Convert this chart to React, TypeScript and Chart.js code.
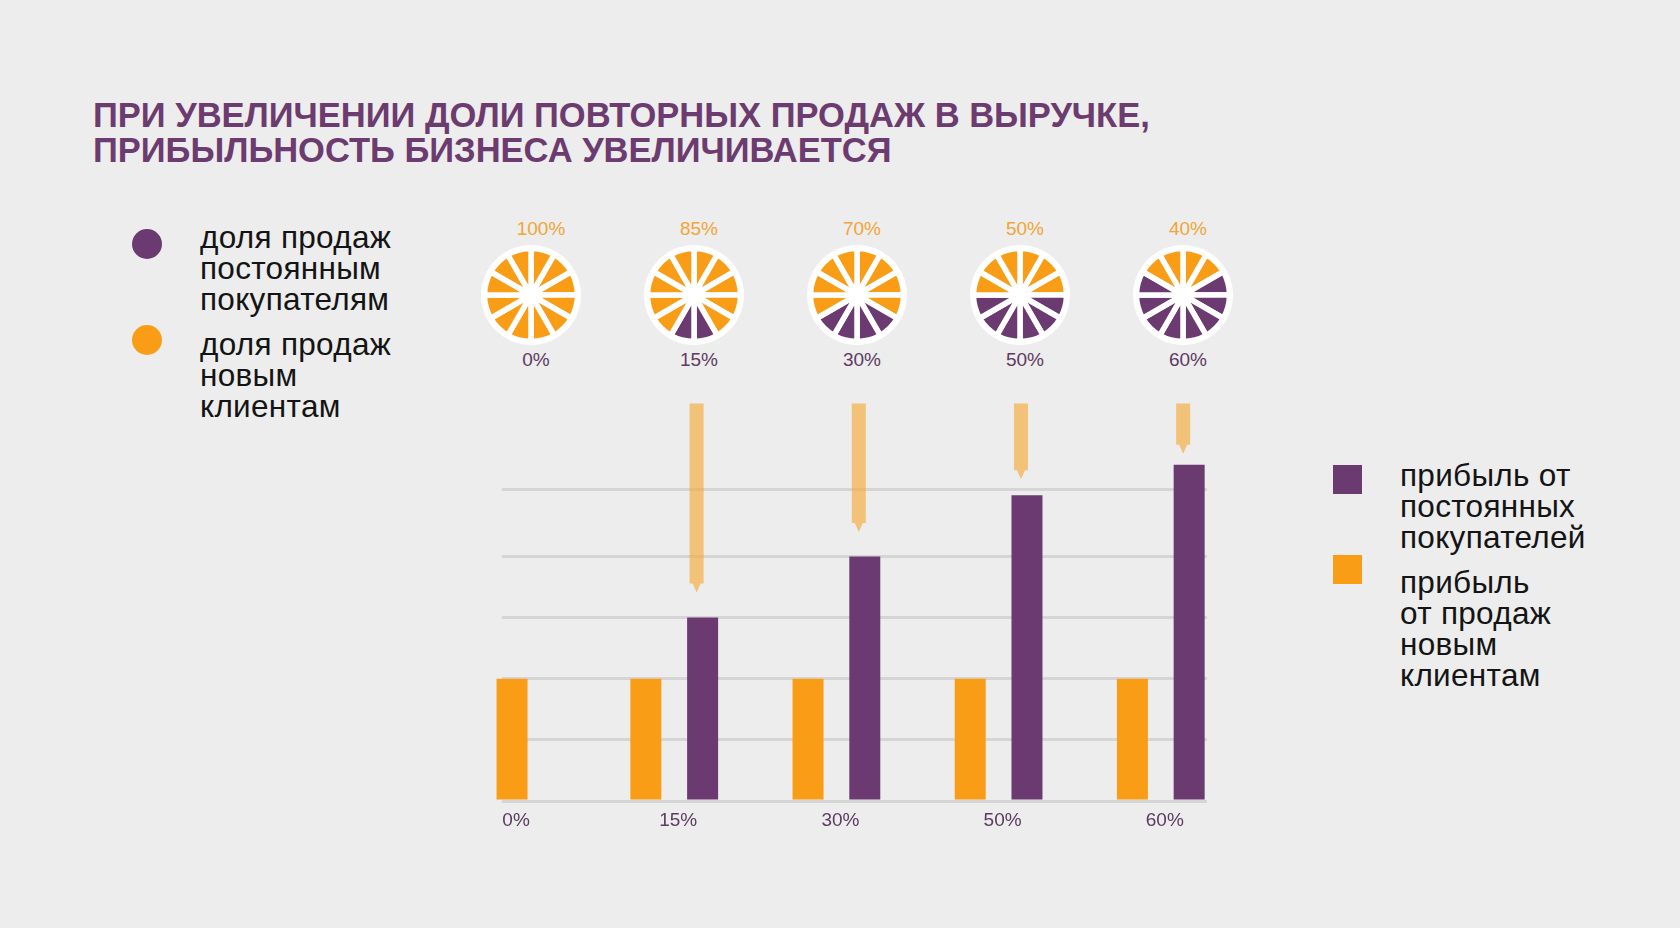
import React, { useEffect, useRef } from 'react';
import { Chart, registerables } from 'chart.js';

Chart.register(...registerables);

// ---------- data ----------
const categories = ['0%', '15%', '30%', '50%', '60%'];
const newClientProfit = [2, 2, 2, 2, 2];
const repeatProfit: (number | null)[] = [null, 3, 4, 5, 5.5];
const arrowTop: (number | null)[] = [null, 6.5, 6.5, 6.5, 6.5];
const arrowTip: (number | null)[] = [null, 3.41, 4.4, 5.26, 5.68];
const gridValues = [0, 1, 2, 3, 4, 5.1];

const newShareLabels = ['100%', '85%', '70%', '50%', '40%'];
const repeatShareLabels = ['0%', '15%', '30%', '50%', '60%'];
const repeatWedges = [0, 2, 4, 6, 8];
const wedgeUnits = [1, 1, 1, 1, 1, 1, 1, 1, 1, 1, 1, 1];

const titleLines = [
  'ПРИ УВЕЛИЧЕНИИ ДОЛИ ПОВТОРНЫХ ПРОДАЖ В ВЫРУЧКЕ,',
  'ПРИБЫЛЬНОСТЬ БИЗНЕСА УВЕЛИЧИВАЕТСЯ',
];
const leftLegendRepeat = ['доля продаж', 'постоянным', 'покупателям'];
const leftLegendNew = ['доля продаж', 'новым', 'клиентам'];
const rightLegendRepeat = ['прибыль от', 'постоянных', 'покупателей'];
const rightLegendNew = ['прибыль', 'от продаж', 'новым', 'клиентам'];

// ---------- styles ----------
const BG = '#ecedec';
const PURPLE = '#6a3a70';
const ORANGE = '#f99d16';
const ARROW = 'rgba(248,165,45,0.6)';
const GRID = '#d4d5d4';
const TITLE = '#6c3b70';
const LABEL_PURPLE = '#5e3a63';
const LABEL_ORANGE = '#f2a53a';
const FONT = "'Liberation Sans', Arial, sans-serif";
const ARROW_SHIFT = -6;

const pieCentersX = [531, 694, 857, 1020, 1183];
const pieCenterY = 295;

const arrowPlugin = {
  id: 'arrowShapes',
  afterDatasetsDraw(chart: any) {
    const meta = chart.getDatasetMeta(2);
    const ctx = chart.ctx;
    ctx.save();
    ctx.fillStyle = ARROW;
    meta.data.forEach((el: any, i: number) => {
      if (arrowTip[i] == null) return;
      const props = el.getProps(['x', 'y', 'base', 'width'], true);
      const x = props.x + ARROW_SHIFT;
      const width = props.width;
      const top = Math.min(props.y, props.base);
      const tip = Math.max(props.y, props.base);
      const head = 9;
      const hw = 4;
      ctx.beginPath();
      ctx.moveTo(x - width / 2, top);
      ctx.lineTo(x + width / 2, top);
      ctx.lineTo(x + width / 2, tip - head);
      ctx.lineTo(x + hw, tip - head);
      ctx.lineTo(x, tip);
      ctx.lineTo(x - hw, tip - head);
      ctx.lineTo(x - width / 2, tip - head);
      ctx.closePath();
      ctx.fill();
    });
    ctx.restore();
  },
};

function BarChart() {
  const ref = useRef<HTMLCanvasElement>(null);
  useEffect(() => {
    const common = {
      categoryPercentage: 0.7,
      skipNull: true,
      clip: false,
    };
    const chart = new Chart(ref.current!, {
      type: 'bar',
      data: {
        datasets: [
          {
            ...common,
            label: 'new',
            stack: 'o',
            data: categories.map((_, i) => ({ x: i, y: newClientProfit[i] })),
            backgroundColor: ORANGE,
            barPercentage: 0.546,
            maxBarThickness: 31,
          },
          {
            ...common,
            label: 'repeat',
            stack: 'p',
            data: categories.map((_, i) => ({ x: i, y: repeatProfit[i] })),
            backgroundColor: PURPLE,
            barPercentage: 0.546,
            maxBarThickness: 31,
          },
          {
            ...common,
            label: 'arrow',
            stack: 'p',
            data: categories.map((_, i) => ({
              x: i,
              y: arrowTip[i] == null ? null : [arrowTip[i], arrowTop[i]],
            })),
            backgroundColor: 'rgba(0,0,0,0)',
            barPercentage: 0.25,
            maxBarThickness: 14,
          },
        ] as any,
      },
      options: {
        animation: false,
        responsive: false,
        events: [],
        layout: { padding: { left: 22, right: 33, top: 23.5, bottom: 20.2 } },
        plugins: { legend: { display: false }, tooltip: { enabled: false } },
        scales: {
          x: {
            type: 'linear',
            offset: false,
            min: -0.062,
            max: 4.285,
            grid: { display: false, drawTicks: false, offset: false },
            border: { display: false },
            afterBuildTicks: (s: any) => {
              s.ticks = categories.map((_, i) => ({ value: i }));
            },
            ticks: {
              callback: (v: any) => categories[v] ?? '',
              color: LABEL_PURPLE,
              font: { family: FONT, size: 19 },
              padding: 8,
              labelOffset: 4,
              maxRotation: 0,
              autoSkip: false,
            },
          },
          y: {
            min: 0,
            max: 6.5,
            stacked: false,
            afterBuildTicks: (s: any) => {
              s.ticks = gridValues.map((v) => ({ value: v }));
            },
            ticks: { display: false },
            grid: { color: GRID, lineWidth: 3, drawTicks: false },
            border: { display: false },
          },
        } as any,
      },
      plugins: [arrowPlugin],
    });
    return () => chart.destroy();
  }, []);
  return (
    <canvas
      ref={ref}
      width={760}
      height={480}
      style={{ position: 'absolute', left: 480, top: 380, width: 760, height: 480 }}
    />
  );
}

function Wheel({ index }: { index: number }) {
  const ref = useRef<HTMLCanvasElement>(null);
  useEffect(() => {
    const k = repeatWedges[index];
    const n = wedgeUnits.length;
    const colors = wedgeUnits.map((_, j) =>
      j >= n / 2 - k / 2 && j < n / 2 + k / 2 ? PURPLE : ORANGE
    );
    const chart = new Chart(ref.current!, {
      type: 'pie',
      data: {
        labels: wedgeUnits.map((_, j) => String(j)),
        datasets: [
          {
            data: wedgeUnits,
            backgroundColor: colors,
            borderColor: '#ffffff',
            borderWidth: 5.5,
            radius: 46.5,
          } as any,
        ],
      },
      options: {
        animation: false,
        responsive: false,
        events: [],
        layout: { padding: 0 },
        plugins: { legend: { display: false }, tooltip: { enabled: false } },
      },
    });
    return () => chart.destroy();
  }, [index]);
  const cx = pieCentersX[index];
  return (
    <>
      <div
        style={{
          position: 'absolute',
          left: cx - 50,
          top: pieCenterY - 50,
          width: 100,
          height: 100,
          borderRadius: '50%',
          background: '#ffffff',
        }}
      />
      <canvas
        ref={ref}
        width={100}
        height={100}
        style={{ position: 'absolute', left: cx - 50, top: pieCenterY - 50, width: 100, height: 100 }}
      />
      <div
        style={{
          position: 'absolute',
          left: cx + (index === 0 ? 10 : 5) - 50,
          width: 100,
          top: 218,
          textAlign: 'center',
          font: `19px/22px ${FONT}`,
          color: LABEL_ORANGE,
        }}
      >
        {newShareLabels[index]}
      </div>
      <div
        style={{
          position: 'absolute',
          left: cx + 5 - 50,
          width: 100,
          top: 349,
          textAlign: 'center',
          font: `19px/22px ${FONT}`,
          color: LABEL_PURPLE,
        }}
      >
        {repeatShareLabels[index]}
      </div>
    </>
  );
}

function TextBlock({ lines, left, top }: { lines: string[]; left: number; top: number }) {
  return (
    <div
      style={{
        position: 'absolute',
        left,
        top,
        font: `31.5px/31px ${FONT}`,
        letterSpacing: '0.3px',
        color: '#141414',
        whiteSpace: 'nowrap',
      }}
    >
      {lines.map((l, i) => (
        <div key={i}>{l}</div>
      ))}
    </div>
  );
}

export default function App() {
  useEffect(() => {
    document.body.style.margin = '0';
  }, []);
  return (
    <div
      style={{
        position: 'fixed',
        left: 0,
        top: 0,
        width: 1680,
        height: 928,
        background: BG,
        overflow: 'hidden',
      }}
    >
      <div
        style={{
          position: 'absolute',
          left: 93,
          top: 97.5,
          font: `bold 34.5px/35px ${FONT}`,
          color: TITLE,
          whiteSpace: 'nowrap',
        }}
      >
        {titleLines.map((l, i) => (
          <div key={i}>{l}</div>
        ))}
      </div>

      <div style={{ position: 'absolute', left: 132, top: 229, width: 30, height: 30, borderRadius: '50%', background: PURPLE }} />
      <div style={{ position: 'absolute', left: 132, top: 325, width: 30, height: 30, borderRadius: '50%', background: ORANGE }} />
      <TextBlock lines={leftLegendRepeat} left={200} top={222} />
      <TextBlock lines={leftLegendNew} left={200} top={328.5} />

      <div style={{ position: 'absolute', left: 1333, top: 465, width: 29, height: 29, background: PURPLE }} />
      <div style={{ position: 'absolute', left: 1333, top: 555, width: 29, height: 29, background: ORANGE }} />
      <TextBlock lines={rightLegendRepeat} left={1400} top={460} />
      <TextBlock lines={rightLegendNew} left={1400} top={567} />

      {pieCentersX.map((_, i) => (
        <Wheel key={i} index={i} />
      ))}

      <BarChart />
    </div>
  );
}
